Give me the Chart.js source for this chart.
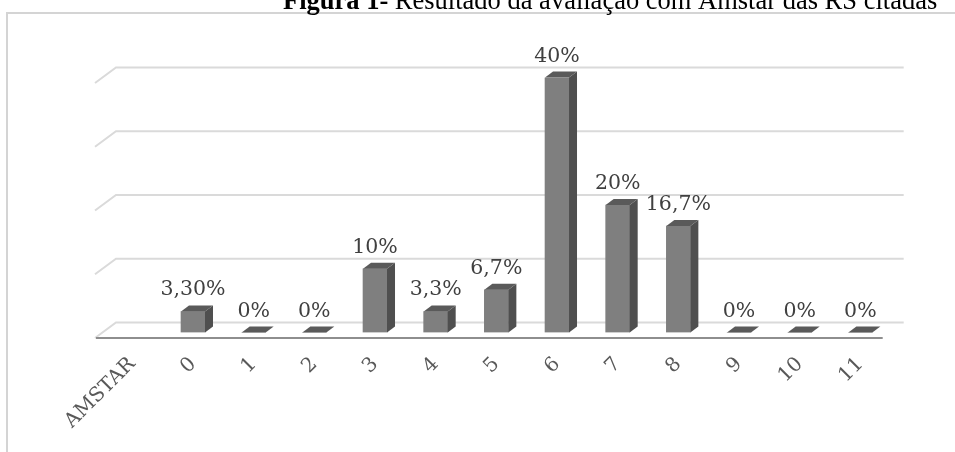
<!DOCTYPE html>
<html>
<head>
<meta charset="utf-8">
<script src="https://cdn.jsdelivr.net/npm/chart.js@4.4.1/dist/chart.umd.min.js"></script>
<style>
  html, body { margin: 0; padding: 0; background: #fff; overflow: hidden; }
  canvas { display: block; }
</style>
</head>
<body>
<canvas id="chart" width="955" height="452"></canvas>
<script>
// AMSTAR score distribution of the cited reviews
const categories = ['AMSTAR', '0', '1', '2', '3', '4', '5', '6', '7', '8', '9', '10', '11'];
const shares = [null, 3.3, 0, 0, 10, 3.3, 6.7, 40, 20, 16.7, 0, 0, 0];
const shareDecimals = [null, 2, 0, 0, 0, 1, 1, 0, 0, 1, 0, 0, 0];
const gridValues = [0, 10, 20, 30, 40];
const titleBold = 'Figura 1-';
const titleRest = ' Resultado da avaliação com Amstar das RS citadas';

// pseudo-3D geometry (pixels)
const DEPTH = { dx: 8, dy: 6 };     // depth of each column
const WALL = { dx: 14, dy: 10 };    // back wall behind the column fronts
const FLOOR = { dx: -7, dy: 5.5 };  // front edge of the floor

function fillPoly(ctx, pts, color) {
  ctx.fillStyle = color;
  ctx.beginPath();
  ctx.moveTo(pts[0][0], pts[0][1]);
  for (let k = 1; k < pts.length; k++) ctx.lineTo(pts[k][0], pts[k][1]);
  ctx.closePath();
  ctx.fill();
}

const frameAndTitle = {
  id: 'frameAndTitle',
  beforeDraw(chart) {
    const ctx = chart.ctx;
    ctx.save();
    ctx.strokeStyle = '#d4d4d4';
    ctx.lineWidth = 2;
    ctx.beginPath();
    ctx.moveTo(7, chart.height);
    ctx.lineTo(7, 13);
    ctx.lineTo(chart.width, 13);
    ctx.stroke();
    ctx.fillStyle = '#000';
    ctx.textBaseline = 'alphabetic';
    ctx.textAlign = 'left';
    ctx.font = 'bold 26.5px "Liberation Serif"';
    ctx.fillText(titleBold, 283, 9);
    const w = ctx.measureText(titleBold).width;
    ctx.font = '26.5px "Liberation Serif"';
    ctx.fillText(titleRest, 283 + w, 9);
    ctx.restore();
  }
};

const wallsAndFloor = {
  id: 'wallsAndFloor',
  beforeDatasetsDraw(chart) {
    const { ctx, chartArea: a, scales: { y } } = chart;
    ctx.save();
    ctx.strokeStyle = '#dadada';
    ctx.lineWidth = 2;
    gridValues.forEach(v => {
      const yb = y.getPixelForValue(v) - WALL.dy;
      ctx.beginPath();
      ctx.moveTo(a.left + FLOOR.dx, yb + WALL.dy + FLOOR.dy);
      ctx.lineTo(a.left + WALL.dx, yb);
      ctx.lineTo(a.right + WALL.dx - 1, yb);
      ctx.stroke();
    });
    const yf = y.getPixelForValue(0) + FLOOR.dy;
    ctx.strokeStyle = '#8e8e8e';
    ctx.lineWidth = 2;
    ctx.beginPath();
    ctx.moveTo(a.left + FLOOR.dx + 1, yf);
    ctx.lineTo(a.right + FLOOR.dx - 1, yf);
    ctx.stroke();
    ctx.restore();
  }
};

const columnFaces = {
  id: 'columnFaces',
  afterDatasetsDraw(chart) {
    const ctx = chart.ctx;
    const meta = chart.getDatasetMeta(0);
    ctx.save();
    meta.data.forEach((bar, i) => {
      const v = shares[i];
      if (v === null || v === undefined) return;
      const { x, y: top, base, width } = bar.getProps(['x', 'y', 'base', 'width'], true);
      const l = x - width / 2, r = x + width / 2;
      if (base - top > 0.5) {
        fillPoly(ctx, [[r, top], [r + DEPTH.dx, top - DEPTH.dy], [r + DEPTH.dx, base - DEPTH.dy], [r, base]], '#4f4f4f');
      }
      fillPoly(ctx, [[l, top], [r, top], [r + DEPTH.dx, top - DEPTH.dy], [l + DEPTH.dx, top - DEPTH.dy]], '#5a5a5a');
      const text = v.toFixed(shareDecimals[i]).replace('.', ',') + '%';
      ctx.fillStyle = '#404040';
      ctx.font = '20.5px "DejaVu Serif"';
      ctx.textAlign = 'center';
      ctx.textBaseline = 'alphabetic';
      ctx.fillText(text, x, top - 16);
    });
    ctx.restore();
  }
};

new Chart(document.getElementById('chart'), {
  type: 'bar',
  data: {
    labels: categories,
    datasets: [{
      data: shares,
      backgroundColor: '#7f7f7f',
      borderWidth: 0,
      barThickness: 24
    }]
  },
  options: {
    responsive: false,
    animation: false,
    devicePixelRatio: 1,
    layout: { padding: { left: 102, right: 64.3, top: 77.5, bottom: 0 } },
    plugins: { legend: { display: false }, tooltip: { enabled: false } },
    scales: {
      x: {
        grid: { display: false, drawTicks: false },
        border: { display: false },
        ticks: {
          autoSkip: false,
          minRotation: 45,
          maxRotation: 45,
          padding: 20,
          color: '#595959',
          font: { family: 'DejaVu Serif', size: 20 }
        },
        afterFit(scale) { scale.height = 119.5; }
      },
      y: { display: false, min: 0, max: 40 }
    }
  },
  plugins: [frameAndTitle, wallsAndFloor, columnFaces]
});
</script>
</body>
</html>
